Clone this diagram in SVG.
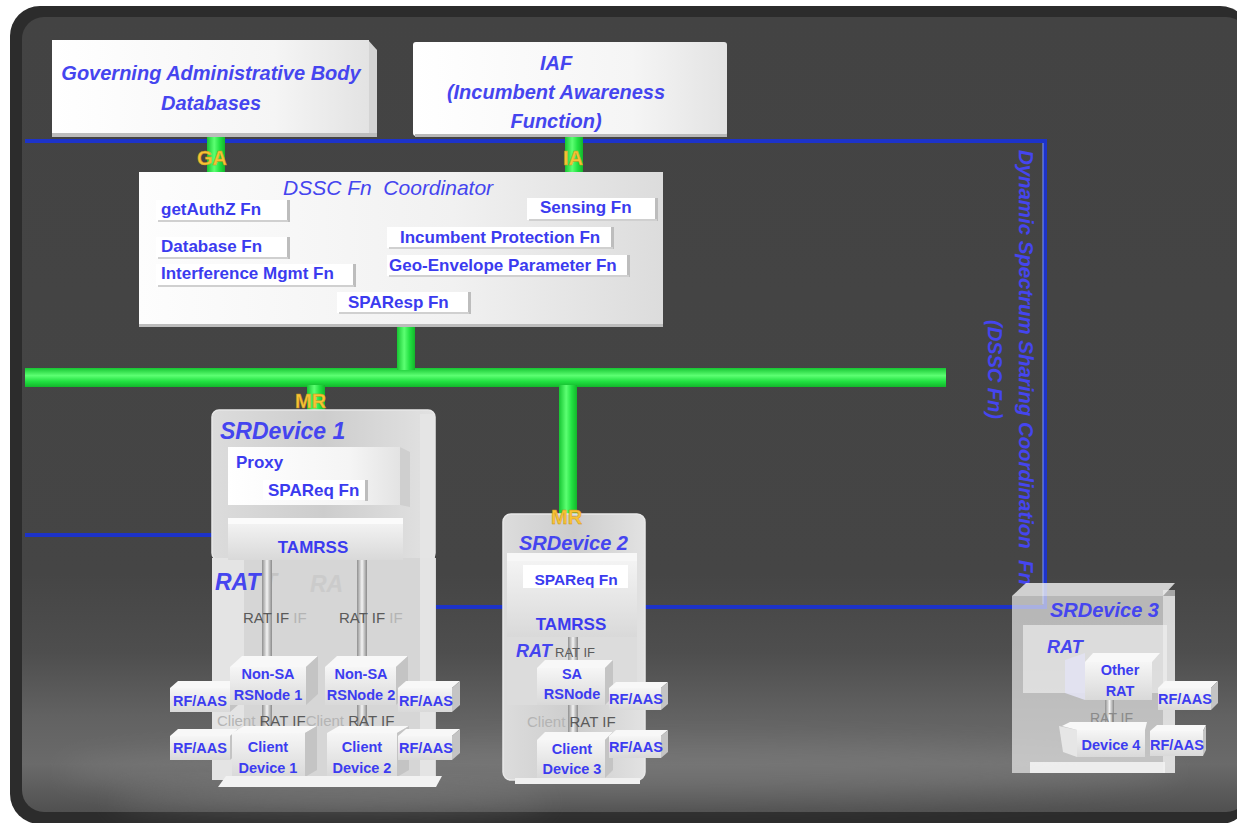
<svg xmlns="http://www.w3.org/2000/svg" width="1237" height="823" viewBox="0 0 1237 823">
  <defs>
    <linearGradient id="bg" x1="0" y1="0" x2="0" y2="1">
      <stop offset="0" stop-color="#434343"/>
      <stop offset="0.7" stop-color="#454545"/>
      <stop offset="0.8" stop-color="#4e4e4e"/>
      <stop offset="0.88" stop-color="#626262"/>
      <stop offset="0.94" stop-color="#6a6a6a"/>
      <stop offset="1" stop-color="#505050"/>
    </linearGradient>
    <linearGradient id="panel" x1="0" y1="0" x2="1" y2="0">
      <stop offset="0" stop-color="#ffffff"/>
      <stop offset="0.7" stop-color="#f5f5f5"/>
      <stop offset="1" stop-color="#e3e3e3"/>
    </linearGradient>
    <linearGradient id="coord" x1="0" y1="0" x2="1" y2="0">
      <stop offset="0" stop-color="#fdfdfd"/>
      <stop offset="0.6" stop-color="#f1f1f1"/>
      <stop offset="1" stop-color="#dcdcdc"/>
    </linearGradient>
    <linearGradient id="busH" x1="0" y1="0" x2="0" y2="1">
      <stop offset="0" stop-color="#16c632"/>
      <stop offset="0.4" stop-color="#5cff72"/>
      <stop offset="0.7" stop-color="#22e142"/>
      <stop offset="1" stop-color="#13b62b"/>
    </linearGradient>
    <linearGradient id="busV" x1="0" y1="0" x2="1" y2="0">
      <stop offset="0" stop-color="#16c632"/>
      <stop offset="0.4" stop-color="#5cff72"/>
      <stop offset="0.7" stop-color="#22e142"/>
      <stop offset="1" stop-color="#13b62b"/>
    </linearGradient>
    <linearGradient id="pipe" x1="0" y1="0" x2="1" y2="0">
      <stop offset="0" stop-color="#8f8f8f"/>
      <stop offset="0.5" stop-color="#f4f4f4"/>
      <stop offset="1" stop-color="#8a8a8a"/>
    </linearGradient>
    <linearGradient id="face" x1="0" y1="0" x2="0" y2="1">
      <stop offset="0" stop-color="#f6f6f6"/>
      <stop offset="1" stop-color="#d9d9d9"/>
    </linearGradient>
    <linearGradient id="shell" x1="0" y1="0" x2="1" y2="0">
      <stop offset="0" stop-color="#dcdcdc"/>
      <stop offset="0.5" stop-color="#cdcdcd"/>
      <stop offset="1" stop-color="#e2e2e2"/>
    </linearGradient>
    <filter id="fog" x="-20%" y="-50%" width="140%" height="200%">
      <feGaussianBlur stdDeviation="14"/>
    </filter>
    <style>
      .bt{font-family:"Liberation Sans",Arial,sans-serif;font-weight:bold;font-style:italic;fill:#4545ef}
      .fn{font-family:"Liberation Sans",Arial,sans-serif;font-weight:bold;font-size:17px;fill:#3b3bef}
      .nd{font-family:"Liberation Sans",Arial,sans-serif;font-weight:bold;font-size:14.5px;fill:#3c3cf0;text-anchor:middle}
      .ifx{font-family:"Liberation Sans",Arial,sans-serif;font-size:15px;fill:#5a5a5a}
      .ifl{fill:#b4b4b4}
      .gold{font-family:"Liberation Sans",Arial,sans-serif;font-weight:bold;font-size:20px;fill:#f7c335;stroke:#c98f18;stroke-width:0.4}
      .wire{fill:none;stroke:#1d33c9;stroke-width:4;stroke-linejoin:miter}
      .wirehi{fill:none;stroke:#7d96ff;stroke-width:1}
      .fb{fill:#ffffff}
      .fe{fill:#bdbdbd}
      .fl{fill:#d0d0d0}
      .top{fill:#f8f8f8}
      .side{fill:#c4c4c4}
      .front{fill:url(#face)}
    </style>
  </defs>

  <!-- frame -->
  <rect x="0" y="0" width="1237" height="823" fill="#ffffff"/>
  <rect x="10" y="6" width="1240" height="818" rx="30" fill="#2c2c2c"/>
  <rect x="22" y="17" width="1226" height="795" rx="22" fill="url(#bg)"/>
  <ellipse cx="620" cy="770" rx="560" ry="30" fill="#8a8a8a" opacity="0.35" filter="url(#fog)"/>
  <ellipse cx="330" cy="800" rx="220" ry="14" fill="#9a9a9a" opacity="0.3" filter="url(#fog)"/>

  <!-- connectors -->
  <g id="connectors">
    <polyline class="wire" points="25,141 1045,141 1045,607 637,607"/>
    <polyline class="wirehi" points="1043,143 1043,604"/>
    <polyline class="wire" points="25,535 230,535"/>
    <polyline class="wire" points="402,535 430,535 430,607 508,607"/>
    <!-- GA / IA links -->
    <rect x="207" y="137" width="18" height="36" fill="url(#busV)"/>
    <rect x="565" y="137" width="18" height="36" fill="url(#busV)"/>
    <!-- MR bus -->
    <rect x="25" y="368" width="921" height="19" fill="url(#busH)"/>
    <rect x="397" y="326" width="18" height="44" fill="url(#busV)"/>
    <rect x="559" y="385" width="18" height="142" fill="url(#busV)"/>
    <rect x="307" y="385" width="18" height="28" fill="url(#busV)"/>
    <text class="bt" font-size="20" transform="translate(1019,150) rotate(90)" textLength="435" lengthAdjust="spacingAndGlyphs" xml:space="preserve">Dynamic Spectrum Sharing Coordination  Fn</text>
    <text class="bt" font-size="20" transform="translate(988,320) rotate(90)">(DSSC Fn)</text>
  </g>

  <!-- Governing Administrative Body Databases -->
  <g id="gab">
    <polygon points="368,40 377,50 377,137 368,135" fill="#d4d4d4"/>
    <rect x="52" y="40" width="317" height="95" fill="url(#panel)"/>
    <rect x="52" y="133" width="325" height="4" fill="#bdbdbd"/>
    <text class="bt" font-size="20" x="211" y="80" text-anchor="middle">Governing Administrative Body</text>
    <text class="bt" font-size="20" x="211" y="110" text-anchor="middle">Databases</text>
  </g>

  <!-- IAF -->
  <g id="iaf">
    <rect x="413" y="42" width="314" height="94" rx="3" fill="url(#panel)"/>
    <rect x="415" y="134" width="312" height="3" fill="#b9b9b9"/>
    <text class="bt" font-size="20" x="556" y="70" text-anchor="middle">IAF</text>
    <text class="bt" font-size="20" x="556" y="99" text-anchor="middle">(Incumbent Awareness</text>
    <text class="bt" font-size="20" x="556" y="128" text-anchor="middle">Function)</text>
  </g>

  <!-- DSSC Fn Coordinator -->
  <g id="dssc-coordinator">
    <rect x="139" y="172" width="524" height="155" fill="url(#coord)"/>
    <rect x="139" y="324" width="524" height="3" fill="#bcbcbc"/>
    <text class="bt" font-size="21" style="font-weight:normal" x="283" y="195" xml:space="preserve">DSSC Fn  Coordinator</text>

    <g id="fn-getauthz">
      <rect class="fb" x="156" y="200" width="131" height="21"/>
      <rect class="fe" x="287" y="200" width="3" height="22"/>
      <rect class="fl" x="158" y="220" width="130" height="2"/>
      <text class="fn" x="161" y="215">getAuthZ Fn</text>
    </g>
    <g id="fn-sensing">
      <rect class="fb" x="527" y="198" width="128" height="22"/>
      <rect class="fe" x="655" y="198" width="3" height="23"/>
      <rect class="fl" x="529" y="219" width="128" height="2"/>
      <text class="fn" x="540" y="213">Sensing Fn</text>
    </g>
    <g id="fn-database">
      <rect class="fb" x="156" y="237" width="131" height="21"/>
      <rect class="fe" x="287" y="237" width="3" height="22"/>
      <rect class="fl" x="158" y="257" width="130" height="2"/>
      <text class="fn" x="161" y="252">Database Fn</text>
    </g>
    <g id="fn-incumbent-protection">
      <rect class="fb" x="387" y="227" width="224" height="21"/>
      <rect class="fe" x="611" y="227" width="3" height="22"/>
      <rect class="fl" x="389" y="247" width="224" height="2"/>
      <text class="fn" x="400" y="243">Incumbent Protection Fn</text>
    </g>
    <g id="fn-interference">
      <rect class="fb" x="156" y="264" width="197" height="22"/>
      <rect class="fe" x="353" y="264" width="3" height="23"/>
      <rect class="fl" x="158" y="285" width="196" height="2"/>
      <text class="fn" x="161" y="279">Interference Mgmt Fn</text>
    </g>
    <g id="fn-geo-envelope">
      <rect class="fb" x="387" y="255" width="240" height="21"/>
      <rect class="fe" x="627" y="255" width="3" height="22"/>
      <rect class="fl" x="389" y="275" width="240" height="2"/>
      <text class="fn" x="389" y="271">Geo-Envelope Parameter Fn</text>
    </g>
    <g id="fn-sparesp">
      <rect class="fb" x="337" y="292" width="131" height="21"/>
      <rect class="fe" x="468" y="292" width="3" height="22"/>
      <rect class="fl" x="339" y="312" width="130" height="2"/>
      <text class="fn" x="348" y="308">SPAResp Fn</text>
    </g>
  </g>

  <!-- SRDevice 1 -->
  <g id="srdevice1">
    <rect x="212" y="410" width="223" height="150" rx="7" fill="url(#shell)" stroke="#e8e8e8" stroke-width="1.5"/>
    <rect x="212" y="558" width="224" height="222" fill="#d6d6d6"/>
    <rect x="212" y="558" width="32" height="222" fill="#e4e4e4"/>
    <rect x="420" y="414" width="15" height="366" fill="#e6e6e6" opacity="0.9"/>
    <text class="bt" font-size="23" x="220" y="439">SRDevice 1</text>

    <g id="srd1-proxy">
      <rect x="228" y="447" width="173" height="58" fill="url(#panel)"/>
      <polygon points="400,447 410,452 410,507 400,505" fill="#cfcfcf"/>
      <text class="fn" x="236" y="468">Proxy</text>
      <rect class="fb" x="263" y="480" width="102" height="20"/>
      <rect class="fe" x="365" y="480" width="3" height="21"/>
      <text class="fn" x="268" y="496">SPAReq Fn</text>
    </g>
    <g id="srd1-tamrss">
      <rect x="228" y="518" width="175" height="42" fill="url(#face)"/>
      <rect x="228" y="518" width="175" height="6" fill="#fbfbfb"/>
      <text class="fn" x="313" y="553" text-anchor="middle">TAMRSS</text>
    </g>

    <text class="bt" font-size="23" x="215" y="590">RAT</text>
    <text class="bt" font-size="23" x="263" y="590" style="fill:#c4c4c4">T</text>
    <text class="bt" font-size="23" x="310" y="592" style="fill:#cbcbcb">RA</text>

    <rect x="262" y="560" width="10" height="170" fill="url(#pipe)"/>
    <rect x="357" y="560" width="10" height="170" fill="url(#pipe)"/>
    <text class="ifx" x="243" y="623">RAT IF <tspan class="ifl">IF</tspan></text>
    <text class="ifx" x="339" y="623">RAT IF <tspan class="ifl">IF</tspan></text>

    <g id="srd1-rf1">
      <polygon class="top" points="170,688 178,681 238,681 230,688"/>
      <polygon class="side" points="230,688 238,681 238,705 230,712"/>
      <rect class="front" x="170" y="688" width="60" height="24"/>
      <text class="nd" x="200" y="706">RF/AAS</text>
    </g>
    <g id="srd1-rsnode1">
      <polygon class="top" points="230,667 242,656 318,656 306,667"/>
      <polygon class="side" points="306,667 318,656 318,694 306,705"/>
      <rect class="front" x="230" y="667" width="76" height="38"/>
      <text class="nd" x="268" y="679">Non-SA</text>
      <text class="nd" x="268" y="700">RSNode 1</text>
    </g>
    <g id="srd1-rsnode2">
      <polygon class="top" points="325,667 337,656 408,656 396,667"/>
      <polygon class="side" points="396,667 408,656 408,694 396,705"/>
      <rect class="front" x="325" y="667" width="71" height="38"/>
      <text class="nd" x="361" y="679">Non-SA</text>
      <text class="nd" x="361" y="700">RSNode 2</text>
    </g>
    <g id="srd1-rf2">
      <polygon class="top" points="398,688 406,681 460,681 452,688"/>
      <polygon class="side" points="452,688 460,681 460,705 452,712"/>
      <rect class="front" x="398" y="688" width="54" height="24"/>
      <text class="nd" x="426" y="706">RF/AAS</text>
    </g>

    <text class="ifx" x="217" y="726"><tspan class="ifl">Client </tspan>RAT IF<tspan class="ifl">Client </tspan>RAT IF</text>

    <g id="srd1-rf3">
      <polygon class="top" points="170,736 178,729 238,729 230,736"/>
      <polygon class="side" points="230,736 238,729 238,753 230,760"/>
      <rect class="front" x="170" y="736" width="60" height="24"/>
      <text class="nd" x="200" y="753">RF/AAS</text>
    </g>
    <g id="srd1-client1">
      <polygon class="top" points="232,733 244,726 317,726 305,733"/>
      <polygon class="side" points="305,733 317,726 317,770 305,777"/>
      <rect class="front" x="232" y="733" width="73" height="44"/>
      <text class="nd" x="268" y="752">Client</text>
      <text class="nd" x="268" y="773">Device 1</text>
    </g>
    <g id="srd1-client2">
      <polygon class="top" points="327,733 339,726 409,726 397,733"/>
      <polygon class="side" points="397,733 409,726 409,770 397,777"/>
      <rect class="front" x="327" y="733" width="70" height="44"/>
      <text class="nd" x="362" y="752">Client</text>
      <text class="nd" x="362" y="773">Device 2</text>
    </g>
    <g id="srd1-rf4">
      <polygon class="top" points="398,736 406,729 460,729 452,736"/>
      <polygon class="side" points="452,736 460,729 460,753 452,760"/>
      <rect class="front" x="398" y="736" width="54" height="24"/>
      <text class="nd" x="426" y="753">RF/AAS</text>
    </g>
    <polygon points="218,787 226,776 442,776 436,787" fill="#f2f2f2"/>
  </g>

  <!-- SRDevice 2 -->
  <g id="srdevice2">
    <rect x="503" y="514" width="142" height="266" rx="8" fill="url(#shell)" stroke="#e8e8e8" stroke-width="1.5"/>
    <text class="bt" font-size="20" x="519" y="550">SRDevice 2</text>
    <rect x="507" y="553" width="130" height="84" fill="url(#face)"/>
    <rect x="507" y="553" width="130" height="8" fill="#f7f7f7"/>
    <rect class="fb" x="523" y="565" width="105" height="23"/>
    <text class="fn" x="576" y="585" style="font-size:15.5px" text-anchor="middle">SPAReq Fn</text>
    <text class="fn" x="571" y="630" text-anchor="middle">TAMRSS</text>
    <rect x="507" y="637" width="130" height="68" fill="#dcdcdc"/>
    <rect x="568" y="637" width="10" height="105" fill="url(#pipe)"/>
    <text class="bt" font-size="18" x="516" y="657">RAT</text>
    <text class="ifx" x="555" y="657" style="font-size:13px">RAT IF</text>

    <g id="srd2-rsnode">
      <polygon class="top" points="537,668 545,660 613,660 605,668"/>
      <polygon class="side" points="605,668 613,660 613,697 605,705"/>
      <rect class="front" x="537" y="668" width="68" height="37"/>
      <text class="nd" x="572" y="679">SA</text>
      <text class="nd" x="572" y="699">RSNode</text>
    </g>
    <g id="srd2-rf1">
      <polygon class="top" points="609,688 616,682 668,682 661,688"/>
      <polygon class="side" points="661,688 668,682 668,704 661,710"/>
      <rect class="front" x="609" y="688" width="52" height="22"/>
      <text class="nd" x="636" y="704">RF/AAS</text>
    </g>
    <text class="ifx" x="527" y="727"><tspan class="ifl">Client </tspan>RAT IF</text>
    <g id="srd2-client3">
      <polygon class="top" points="537,740 545,732 613,732 605,740"/>
      <polygon class="side" points="605,740 613,732 613,770 605,778"/>
      <rect class="front" x="537" y="740" width="68" height="38"/>
      <text class="nd" x="572" y="754">Client</text>
      <text class="nd" x="572" y="774">Device 3</text>
    </g>
    <g id="srd2-rf2">
      <polygon class="top" points="609,736 616,730 668,730 661,736"/>
      <polygon class="side" points="661,736 668,730 668,752 661,758"/>
      <rect class="front" x="609" y="736" width="52" height="22"/>
      <text class="nd" x="636" y="752">RF/AAS</text>
    </g>
    <rect x="515" y="778" width="125" height="6" fill="#f0f0f0"/>
  </g>

  <!-- SRDevice 3 -->
  <g id="srdevice3">
    <polygon points="1012,596 1026,583 1175,583 1163,596" fill="#f2f2f2" opacity="0.8"/>
    <rect x="1012" y="596" width="163" height="177" fill="#ececec" opacity="0.68"/>
    <rect x="1163" y="590" width="12" height="183" fill="#f4f4f4" opacity="0.55"/>
    <text class="bt" font-size="20" x="1050" y="617">SRDevice 3</text>
    <rect x="1023" y="625" width="144" height="68" fill="#f4f4f4" opacity="0.6"/>
    <text class="bt" font-size="18" x="1047" y="653">RAT</text>
    <g id="srd3-otherrat">
      <polygon points="1065,660 1085,653 1085,700 1065,693" fill="#e2e2f2" opacity="0.9"/>
      <polygon class="top" points="1085,662 1093,653 1160,653 1152,662"/>
      <rect class="front" x="1085" y="662" width="67" height="38"/>
      <text class="nd" x="1120" y="675">Other</text>
      <text class="nd" x="1120" y="696">RAT</text>
    </g>
    <g id="srd3-rf1">
      <polygon class="top" points="1158,688 1165,681 1218,681 1211,688"/>
      <polygon class="side" points="1211,688 1218,681 1218,703 1211,710"/>
      <rect class="front" x="1158" y="688" width="53" height="22"/>
      <text class="nd" x="1185" y="704">RF/AAS</text>
    </g>
    <rect x="1105" y="700" width="9" height="32" fill="url(#pipe)"/>
    <text class="ifx" x="1090" y="723" style="font-size:14px;fill:#8a8a8a">RAT IF</text>
    <g id="srd3-device4">
      <polygon points="1059,726 1077,730 1077,757 1063,752" fill="#ececec" opacity="0.85"/>
      <polygon class="top" points="1062,726 1070,722 1147,722 1145,730 1077,730"/>
      <rect class="front" x="1077" y="730" width="68" height="27"/>
      <text class="nd" x="1111" y="750">Device 4</text>
    </g>
    <g id="srd3-rf2">
      <polygon class="top" points="1150,731 1157,725 1206,725 1203,731"/>
      <polygon class="side" points="1203,731 1206,725 1206,750 1203,756"/>
      <rect class="front" x="1150" y="731" width="53" height="25"/>
      <text class="nd" x="1177" y="750">RF/AAS</text>
    </g>
    <rect x="1030" y="762" width="135" height="11" fill="#f2f2f2" opacity="0.9"/>
  </g>

  <!-- interface labels on the bus links -->
  <g id="link-labels">
    <text class="gold" x="197" y="165">GA</text>
    <text class="gold" x="563" y="165">IA</text>
    <text class="gold" x="295" y="408">MR</text>
    <text class="gold" x="551" y="524">MR</text>
  </g>
</svg>
